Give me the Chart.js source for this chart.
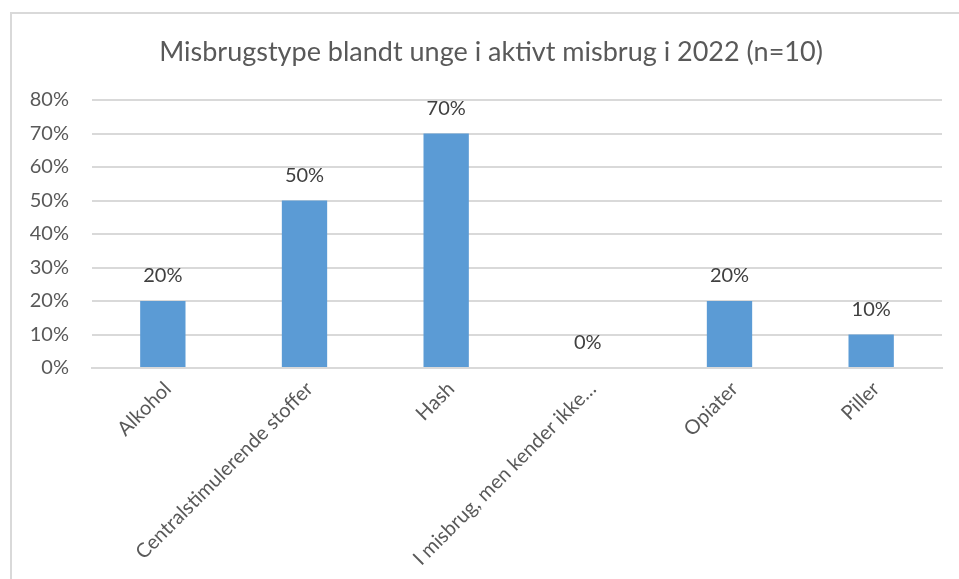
<!DOCTYPE html>
<html>
<head>
<meta charset="utf-8">
<script src="https://cdn.jsdelivr.net/npm/chart.js@4"></script>
<style>
  html, body { margin: 0; padding: 0; background: #fff; }
  #wrap { position: relative; width: 959px; height: 579px; overflow: hidden; }
  #frame { position: absolute; left: 10px; top: 12px; width: 1000px; height: 600px; border: 2px solid #d9d9d9; box-sizing: border-box; }
  canvas { position: absolute; left: 0; top: 0; }
</style>
</head>
<body>
<div id="wrap">
  <div id="frame"></div>
  <canvas id="chart" width="959" height="579"></canvas>
</div>
<script>
const chartTitle = "Misbrugstype blandt unge i aktivt misbrug i 2022 (n=10)"
const categories = [
  "Alkohol",
  "Centralstimulerende stoffer",
  "Hash",
  "I misbrug, men kender ikke…",
  "Opiater",
  "Piller"
]
const shares = [20, 50, 70, 0, 20, 10]
const yMax = 80
const yStep = 10

const fontFamily = "Lato, 'Open Sans', sans-serif"

// Skriver procentværdien over hver søjle, som i Excel-udgaven.
const valueLabels = {
  id: "valueLabels",
  afterDatasetsDraw(chart) {
    const { ctx } = chart
    const bars = chart.getDatasetMeta(0).data

    ctx.save()
    ctx.textAlign = "center"
    ctx.textBaseline = "bottom"
    ctx.font = `20px ${fontFamily}`
    ctx.fillStyle = "#404040"
    bars.forEach((bar, index) => {
      ctx.fillText(`${shares[index]}%`, bar.x, bar.y - 15)
    })
    ctx.restore()
  }
}

// Titlen står midt over hele Excel-rammen (som går ud over vinduet til højre),
// ikke over lærredet, så den tegnes her i stedet for med title-plugin'et.
const chartHeading = {
  id: "chartHeading",
  afterDraw(chart) {
    const { ctx } = chart
    ctx.save()
    ctx.textAlign = "center"
    ctx.textBaseline = "middle"
    ctx.font = `27px ${fontFamily}`
    ctx.fillStyle = "#595959"
    ctx.fillText(chartTitle, 491, 52)
    ctx.restore()
  }
}

new Chart(document.getElementById("chart"), {
  type: "bar",
  data: {
    labels: categories,
    datasets: [{
      data: shares,
      backgroundColor: "#5b9bd5",
      categoryPercentage: 1,
      barPercentage: 0.32
    }]
  },
  options: {
    responsive: false,
    animation: false,
    layout: { padding: { left: 0, right: 17, top: 100, bottom: 0 } },
    plugins: {
      legend: { display: false },
      tooltip: { enabled: false },
      title: { display: false }
    },
    scales: {
      x: {
        grid: { display: false },
        border: { color: "#d9d9d9", width: 2 },
        ticks: {
          color: "#595959",
          font: { family: fontFamily, size: 20 },
          minRotation: 45,
          maxRotation: 45,
          autoSkip: false,
          padding: 1,
          labelOffset: 5
        },
        afterFit: (scale) => { scale.height = 211 }
      },
      y: {
        min: 0,
        max: yMax,
        grid: { color: "#d9d9d9", lineWidth: 2, drawTicks: false },
        border: { display: false },
        ticks: {
          stepSize: yStep,
          color: "#595959",
          font: { family: fontFamily, size: 20 },
          padding: 23,
          callback: (value) => `${value}%`
        },
        afterFit: (scale) => { scale.width = 92 }
      }
    }
  },
  plugins: [valueLabels, chartHeading]
})
</script>
</body>
</html>
